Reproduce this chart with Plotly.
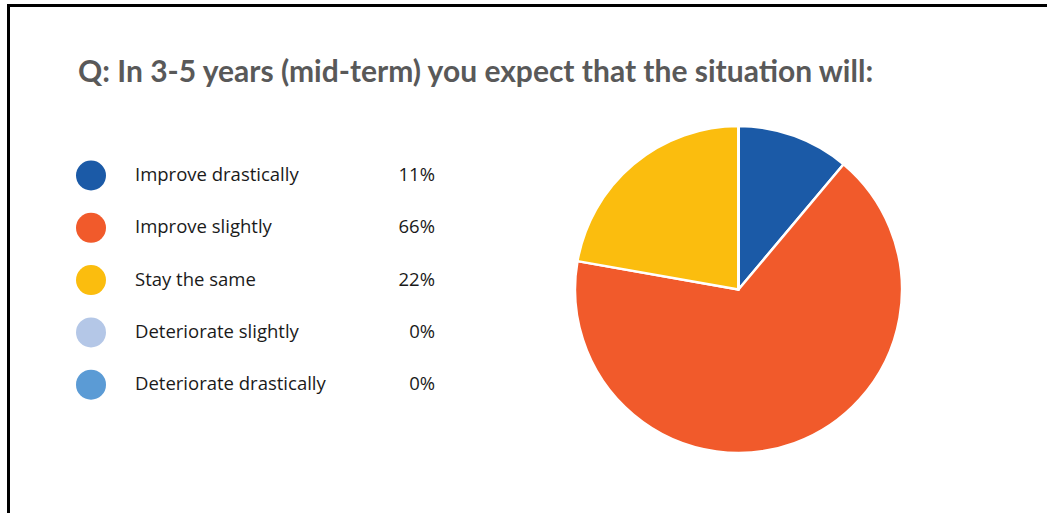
import plotly.graph_objects as go

W, H = 1047, 513

categories = ["Improve drastically", "Improve slightly", "Stay the same",
              "Deteriorate slightly", "Deteriorate drastically"]
values = [11, 66, 22, 0, 0]
pct_labels = ["11%", "66%", "22%", "0%", "0%"]
colors = ["#1B5AA7", "#F15A2B", "#FBBD0E", "#B4C7E7", "#5B9BD5"]
title_text = "Q: In 3-5 years (mid-term) you expect that the situation will:"

fig = go.Figure()

# Pie
pie_left, pie_right, pie_top, pie_bottom = 575, 902, 126, 453
fig.add_trace(go.Pie(
    labels=categories, values=values, sort=False, direction="clockwise",
    rotation=0, marker=dict(colors=colors, line=dict(color="white", width=2.5)),
    textinfo="none", hoverinfo="label+percent", showlegend=False,
    domain=dict(x=[pie_left / W, pie_right / W], y=[1 - pie_bottom / H, 1 - pie_top / H]),
))

# Custom legend on an overlay axis in pixel units
row0, row_step = 175.5, 52.3
ys = [row0 + i * row_step for i in range(len(categories))]
fig.add_trace(go.Scatter(
    x=[91] * len(categories), y=ys, mode="markers",
    marker=dict(size=30, color=colors, line=dict(width=0)),
    hoverinfo="skip", showlegend=False, xaxis="x", yaxis="y",
))
fig.add_trace(go.Scatter(
    x=[135] * len(categories), y=[y + 1 for y in ys], mode="text", text=categories,
    textposition="middle right",
    textfont=dict(family="Open Sans", size=18.5, color="#1a1a1a"),
    hoverinfo="skip", showlegend=False,
))
fig.add_trace(go.Scatter(
    x=[435] * len(categories), y=[y + 1 for y in ys], mode="text", text=pct_labels,
    textposition="middle left",
    textfont=dict(family="Open Sans", size=18.5, color="#1a1a1a"),
    hoverinfo="skip", showlegend=False,
))

fig.update_layout(
    width=W, height=H, margin=dict(l=0, r=0, t=0, b=0),
    paper_bgcolor="white", plot_bgcolor="rgba(0,0,0,0)",
    xaxis=dict(range=[0, W], visible=False, fixedrange=True, domain=[0, 1]),
    yaxis=dict(range=[H, 0], visible=False, fixedrange=True, domain=[0, 1]),
    annotations=[dict(
        text="<b>" + title_text + "</b>", x=76 / W, y=1 - 70 / H,
        xref="paper", yref="paper", xanchor="left", yanchor="middle",
        showarrow=False, font=dict(family="Lato", size=30, color="#595959"),
    )],
    shapes=[
        dict(type="line", xref="paper", yref="paper", x0=8.5 / W, x1=1, y0=1 - 5.5 / H, y1=1 - 5.5 / H,
             line=dict(color="black", width=3)),
        dict(type="line", xref="paper", yref="paper", x0=8.5 / W, x1=8.5 / W, y0=0, y1=1 - 4 / H,
             line=dict(color="black", width=3)),
    ],
)

fig.write_html("out.html")
